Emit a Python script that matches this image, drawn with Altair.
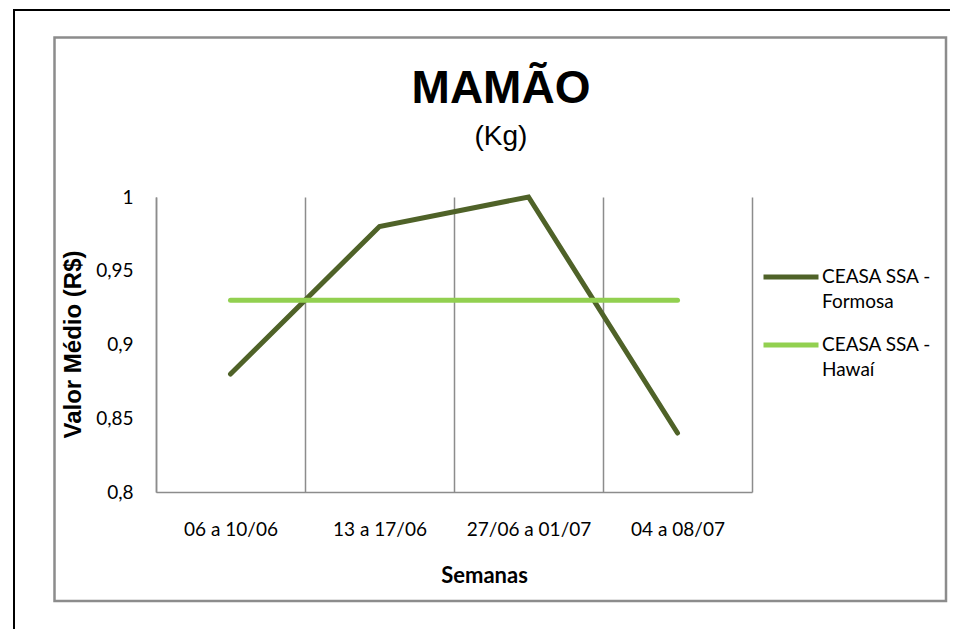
import altair as alt
import pandas as pd

weeks = ["06 a 10/06", "13 a 17/06", "27/06 a 01/07", "04 a 08/07"]
formosa = [0.88, 0.98, 1.00, 0.84]
hawai = [0.93, 0.93, 0.93, 0.93]
series_names = ["CEASA SSA - Formosa", "CEASA SSA - Hawaí"]
series_colors = ["#4F6228", "#92D050"]
y_ticks = [0.8, 0.85, 0.9, 0.95, 1.0]
title_text = "MAMÃO"
subtitle_text = "(Kg)"

rows = []
for w, v in zip(weeks, formosa):
    rows.append({"Semana": w, "Série": series_names[0], "Valor": v})
for w, v in zip(weeks, hawai):
    rows.append({"Semana": w, "Série": series_names[1], "Valor": v})
df = pd.DataFrame(rows)

W, H = 596, 295
LABEL_FONT = "Lato"

lines = alt.Chart(df).mark_line(strokeWidth=5, strokeCap="round", strokeJoin="miter").encode(
    x=alt.X("Semana:N", sort=weeks,
            scale=alt.Scale(type="band", paddingInner=0, paddingOuter=0),
            axis=alt.Axis(title="Semanas", labelAngle=0, tickBand="extent", grid=True,
                          gridColor="#8c8c8c", gridWidth=1.5, domainColor="#8c8c8c", domainWidth=1.5,
                          ticks=False, tickSize=0, labelPadding=28, labelFont=LABEL_FONT,
                          labelFontSize=19, labelColor="#000000",
                          titleFont=LABEL_FONT, titleFontSize=22, titleFontWeight="bold",
                          titleColor="#000000", titleX=328, titleY=83, titleBaseline="middle",
                          titleAlign="center")),
    y=alt.Y("Valor:Q", scale=alt.Scale(domain=[0.8, 1.0], nice=False, zero=False),
            axis=alt.Axis(title="Valor Médio (R$)", values=y_ticks, grid=False,
                          labelExpr="replace(format(datum.value, '.2~f'), '.', ',')",
                          domainColor="#8c8c8c", domainWidth=1.5, ticks=False, tickSize=0,
                          labelPadding=23, labelFont=LABEL_FONT, labelFontSize=19,
                          labelColor="#000000", titleFont="Liberation Sans", titleFontSize=24,
                          titleFontWeight="bold", titleColor="#000000", titleAngle=270,
                          titleX=-83, titleY=147, titleBaseline="middle", titleAlign="center")),
    color=alt.Color("Série:N", sort=series_names,
                    scale=alt.Scale(domain=series_names, range=series_colors),
                    legend=alt.Legend(title=None, orient="none", legendX=605, legendY=50,
                                      symbolType="stroke", symbolSize=3025, symbolStrokeWidth=5,
                                      labelFont=LABEL_FONT, labelFontSize=19, labelColor="#000000",
                                      labelExpr="[slice(datum.label, 0, 11), slice(datum.label, 12)]",
                                      labelBaseline="middle", labelOffset=1, rowPadding=3,
                                      labelLimit=200)),
)

one = alt.Data(values=[{}])

border = alt.Chart(one).mark_rect(filled=False, stroke="#8c8c8c", strokeWidth=2.5).encode(
    x=alt.value(-101.5), x2=alt.value(790), y=alt.value(-159.5), y2=alt.value(404))

outer_left = alt.Chart(one).mark_rule(color="#000000", strokeWidth=2).encode(
    x=alt.value(-142), y=alt.value(-187), y2=alt.value(440))
outer_top = alt.Chart(one).mark_rule(color="#000000", strokeWidth=2).encode(
    x=alt.value(-143), x2=alt.value(800), y=alt.value(-187))

title = alt.Chart(one).mark_text(font="Liberation Sans", fontSize=46, fontWeight="bold",
                                 align="center", baseline="alphabetic", color="#000000").encode(
    x=alt.value(345), y=alt.value(-94), text=alt.value(title_text))
subtitle = alt.Chart(one).mark_text(font="Liberation Sans", fontSize=28,
                                    align="center", baseline="alphabetic", color="#000000").encode(
    x=alt.value(345), y=alt.value(-52), text=alt.value(subtitle_text))

chart = alt.layer(border, outer_left, outer_top, title, subtitle, lines).properties(
    width=W, height=H,
    padding={"left": 148, "top": 189, "right": 198, "bottom": 137},
    autosize=alt.AutoSizeParams(type="none"),
).configure(
    background="#ffffff",
    view=alt.ViewConfig(stroke=None),
    style={"guide-label": {"lineHeight": 25}},
)

chart.save("out.html", embed_options={"renderer": "svg", "actions": False})
